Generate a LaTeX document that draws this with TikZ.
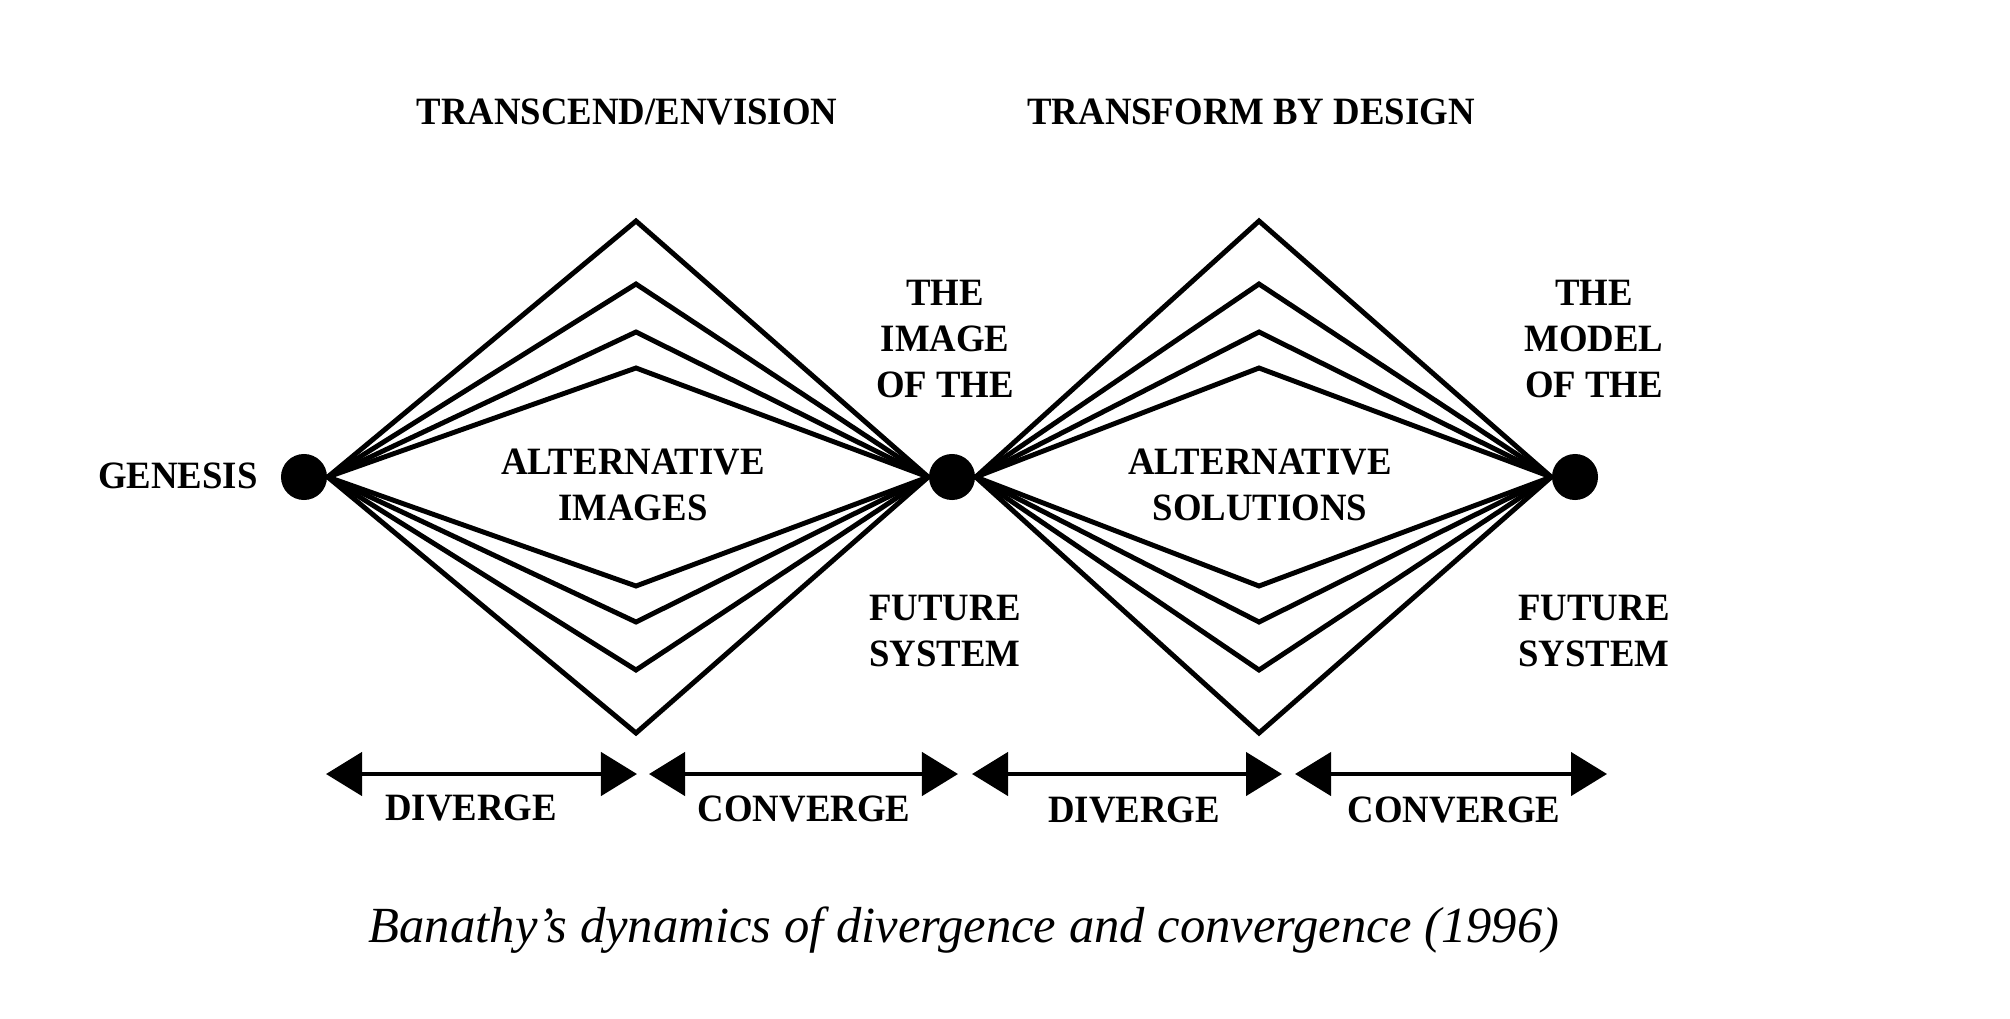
\documentclass[tikz,border=0pt]{standalone}
\usepackage{fontspec}
\setmainfont{Liberation Serif}
\newfontfamily\labfont{Liberation Serif}[FakeStretch=0.95]
\usetikzlibrary{arrows.meta,backgrounds}
\begin{document}
\begin{tikzpicture}[x=0.01cm,y=-0.01cm,
  lab/.style={font=\labfont\bfseries\fontsize{11}{13.1}\selectfont, inner sep=0pt, align=center},
  dot/.style={circle, fill=black, minimum size=0.46cm, inner sep=0pt},
  fan/.style={line width=1.4pt, line join=miter},
  biarrow/.style={line width=1.3pt, {Triangle[length=0.36cm,width=0.43cm]}-{Triangle[length=0.36cm,width=0.43cm]}},
  captext/.style={font=\itshape\fontsize{14.4}{17}\selectfont, inner sep=0pt}
]
\useasboundingbox (0,0) rectangle (2010,1018);

% nodes (dots)
\node[dot] (g) at (304,477) {};
\node[dot] (m) at (952,477) {};
\node[dot] (r) at (1575,477) {};

% fan lines
\begin{scope}[on background layer]
\foreach \d [count=\i] in {256,193,145,109} {
  \coordinate (ta\i) at (636,{477-\d});
  \coordinate (ba\i) at (636,{477+\d});
  \coordinate (tb\i) at (1259,{477-\d});
  \coordinate (bb\i) at (1259,{477+\d});
  \draw[fan] (g.east) -- (ta\i) -- (m.west);
  \draw[fan] (g.east) -- (ba\i) -- (m.west);
  \draw[fan] (m.east) -- (tb\i) -- (r.west);
  \draw[fan] (m.east) -- (bb\i) -- (r.west);
}
\end{scope}

% headings
\node[lab, anchor=base] (h1) at (627,124) {TRANSCEND/ENVISION};
\node[lab, anchor=base] (h2) at (1251,124) {TRANSFORM BY DESIGN};

% labels
\node[lab, anchor=base] (gen) at (178,488) {GENESIS};
\node[lab] (alt1) at (633,484.5) {ALTERNATIVE\\IMAGES};
\node[lab] (alt2) at (1260,484.5) {ALTERNATIVE\\SOLUTIONS};
\node[lab] (img) at (945,339) {THE\\IMAGE\\OF THE};
\node[lab] (fs1) at (945,631) {FUTURE\\SYSTEM};
\node[lab] (mod) at (1594,339) {THE\\MODEL\\OF THE};
\node[lab] (fs2) at (1594,631) {FUTURE\\SYSTEM};

% arrows
\coordinate (a1l) at (326,774); \coordinate (a1r) at (637,774);
\coordinate (a2l) at (649,774); \coordinate (a2r) at (958,774);
\coordinate (a3l) at (972,774); \coordinate (a3r) at (1282,774);
\coordinate (a4l) at (1295,774); \coordinate (a4r) at (1607,774);
\draw[biarrow] (a1l) -- (a1r);
\draw[biarrow] (a2l) -- (a2r);
\draw[biarrow] (a3l) -- (a3r);
\draw[biarrow] (a4l) -- (a4r);

\node[lab, anchor=base] (d1) at (471,820) {DIVERGE};
\node[lab, anchor=base] (c1) at (804,821) {CONVERGE};
\node[lab, anchor=base] (d2) at (1134,822) {DIVERGE};
\node[lab, anchor=base] (c2) at (1454,822) {CONVERGE};

% caption
\node[captext, anchor=base] (cap) at (964,942) {Banathy’s dynamics of divergence and convergence (1996)};
\end{tikzpicture}
\end{document}
